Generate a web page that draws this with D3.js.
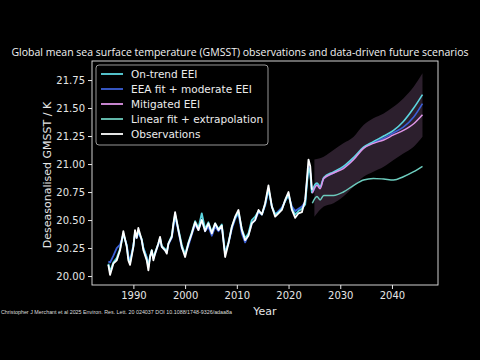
<!DOCTYPE html>
<html>
<head>
<meta charset="utf-8">
<script src="https://cdn.jsdelivr.net/npm/d3@7"></script>
<style>
  html, body { margin: 0; padding: 0; background: #000; }
  svg { display: block; }
</style>
</head>
<body>
<div id="app"></div>
<script>
// observations (deseasonalised GMSST, K)
const obsYears = [1985.16, 1985.49, 1986.12, 1986.78, 1987.42, 1988.06, 1988.72, 1989.03, 1989.36, 1990.00,
  1990.32, 1990.65, 1990.96, 1991.62, 1991.93, 1992.59, 1992.90, 1993.23, 1993.56, 1993.87,
  1994.20, 1994.83, 1995.16, 1995.49, 1996.13, 1996.46, 1996.77, 1997.43, 1997.74, 1998.07,
  1998.70, 1999.36, 2000.00, 2000.64, 2001.30, 2001.94, 2002.58, 2003.23, 2003.87, 2004.50,
  2005.17, 2005.81, 2006.45, 2007.10, 2007.74, 2008.38, 2009.04, 2009.68, 2010.32, 2010.97,
  2011.61, 2012.25, 2012.90, 2013.55, 2014.20, 2014.85, 2015.48, 2016.12, 2016.78, 2017.42,
  2018.06, 2018.71, 2019.35, 2019.99, 2020.65, 2021.29, 2021.93, 2022.58, 2023.22, 2023.55,
  2023.86, 2024.20, 2024.52];
const obsValues = [20.10, 20.01, 20.11, 20.14, 20.23, 20.40, 20.26, 20.14, 20.10, 20.26,
  20.41, 20.34, 20.43, 20.32, 20.23, 20.14, 20.05, 20.17, 20.23, 20.14,
  20.20, 20.29, 20.35, 20.26, 20.23, 20.20, 20.29, 20.35, 20.47, 20.57,
  20.41, 20.26, 20.17, 20.29, 20.38, 20.48, 20.41, 20.50, 20.40, 20.47,
  20.38, 20.47, 20.41, 20.45, 20.17, 20.29, 20.44, 20.53, 20.59, 20.41,
  20.32, 20.36, 20.47, 20.50, 20.59, 20.55, 20.65, 20.81, 20.62, 20.53,
  20.56, 20.59, 20.68, 20.75, 20.59, 20.52, 20.56, 20.57, 20.68, 20.86,
  21.04, 20.98, 20.77];
// fitted series over the observation period
const onTrendHist = [20.11, 20.04, 20.12, 20.16, 20.24, 20.38, 20.27, 20.16, 20.12, 20.27,
  20.39, 20.35, 20.40, 20.33, 20.25, 20.16, 20.08, 20.18, 20.23, 20.16,
  20.21, 20.29, 20.34, 20.27, 20.24, 20.22, 20.29, 20.36, 20.46, 20.55,
  20.42, 20.28, 20.19, 20.30, 20.39, 20.49, 20.43, 20.56, 20.42, 20.48,
  20.39, 20.47, 20.42, 20.46, 20.20, 20.30, 20.44, 20.52, 20.57, 20.42,
  20.34, 20.38, 20.50, 20.53, 20.58, 20.55, 20.64, 20.78, 20.62, 20.55,
  20.57, 20.60, 20.67, 20.73, 20.60, 20.55, 20.58, 20.60, 20.64, 20.82,
  20.96, 20.92, 20.74];
const eeaHist = [20.13, 20.12, 20.18, 20.25, 20.28, 20.37, 20.28, 20.18, 20.14, 20.27,
  20.38, 20.34, 20.39, 20.32, 20.25, 20.17, 20.09, 20.17, 20.22, 20.16,
  20.20, 20.28, 20.33, 20.26, 20.23, 20.21, 20.28, 20.34, 20.44, 20.53,
  20.40, 20.25, 20.20, 20.27, 20.37, 20.46, 20.41, 20.50, 20.40, 20.44,
  20.36, 20.44, 20.40, 20.44, 20.21, 20.29, 20.42, 20.51, 20.56, 20.38,
  20.30, 20.37, 20.47, 20.50, 20.57, 20.55, 20.63, 20.77, 20.62, 20.55,
  20.58, 20.61, 20.67, 20.72, 20.62, 20.58, 20.60, 20.62, 20.66, 20.84,
  20.98, 20.93, 20.75];

// data-driven scenarios
const projYears = [2024.6, 2025.5, 2026.1, 2026.8, 2028.7, 2030.6, 2032.6, 2034.5, 2036.4, 2038.4, 2040.3, 2042.2, 2044.2, 2045.9];
const onTrendProj = [20.76, 20.83, 20.80, 20.88, 20.93, 20.98, 21.06, 21.15, 21.20, 21.25, 21.30, 21.38, 21.50, 21.62];
const eeaProj = [20.75, 20.82, 20.79, 20.87, 20.92, 20.97, 21.05, 21.145, 21.19, 21.23, 21.28, 21.33, 21.42, 21.54];
const mitigatedProj = [20.74, 20.81, 20.78, 20.87, 20.92, 20.96, 21.04, 21.14, 21.185, 21.215, 21.26, 21.30, 21.36, 21.44];
const linearProj = [20.65, 20.71, 20.68, 20.72, 20.72, 20.75, 20.81, 20.857, 20.872, 20.866, 20.857, 20.887, 20.932, 20.98];

// uncertainty range
const bandYears = [2025.0, 2026.8, 2028.7, 2030.6, 2032.6, 2034.5, 2036.4, 2038.4, 2040.3, 2042.2, 2044.2, 2045.9];
const bandUpper = [21.04, 21.065, 21.125, 21.185, 21.244, 21.348, 21.408, 21.452, 21.512, 21.586, 21.69, 21.81];
const bandLower = [20.53, 20.62, 20.65, 20.71, 20.80, 20.887, 20.932, 20.976, 21.036, 21.095, 21.155, 21.244];

const xTicks = [1990, 2000, 2010, 2020, 2030, 2040];
const yTicks = [20.00, 20.25, 20.50, 20.75, 21.00, 21.25, 21.50, 21.75];

const legendLabels = ['On-trend EEI', 'EEA fit + moderate EEI', 'Mitigated EEI', 'Linear fit + extrapolation', 'Observations'];

(() => {
  const W = 480, H = 360;
  const m = { left: 92, right: 438, top: 61, bottom: 285 };
  const colors = {
    onTrend: '#5cd6e0',
    eea: '#3b5fd6',
    mitigated: '#dd94e6',
    linear: '#6ccbbd',
    obs: '#ffffff',
    band: '#2c1f2d'
  };
  const tickFont = 'DejaVu Sans, sans-serif';

  const x = d3.scaleLinear().domain([1982.0, 2048.9]).range([m.left, m.right]);
  const y = d3.scaleLinear().domain([19.92, 21.92]).range([m.bottom, m.top]);

  const svg = d3.select('#app').append('svg')
    .attr('width', W)
    .attr('height', H)
    .style('background', '#000');

  const zip = (xs, ys) => xs.map((d, i) => [d, ys[i]]);
  const smooth = d3.line().x(d => x(d[0])).y(d => y(d[1])).curve(d3.curveMonotoneX);
  const jagged = d3.line().x(d => x(d[0])).y(d => y(d[1]));

  // shaded range
  const area = d3.area()
    .x(d => x(d[0]))
    .y0(d => y(d[2]))
    .y1(d => y(d[1]))
    .curve(d3.curveMonotoneX);
  svg.append('path')
    .datum(bandYears.map((d, i) => [d, bandUpper[i], bandLower[i]]))
    .attr('d', area)
    .attr('fill', colors.band);

  const drawLine = (pts, gen, color, w) => svg.append('path')
    .datum(pts)
    .attr('d', gen)
    .attr('fill', 'none')
    .attr('stroke', color)
    .attr('stroke-width', w)
    .attr('stroke-linejoin', 'round');

  // historical fits drawn jagged, projections smooth
  drawLine(zip(projYears, linearProj), smooth, colors.linear, 1.5);
  drawLine(zip(obsYears, eeaHist), jagged, colors.eea, 1.8);
  drawLine(zip(obsYears, onTrendHist), jagged, colors.onTrend, 1.8);
  drawLine(zip(obsYears.slice(-1), eeaHist.slice(-1)).concat(zip(projYears, eeaProj)), smooth, colors.eea, 1.6);
  drawLine(zip(obsYears.slice(-1), onTrendHist.slice(-1)).concat(zip(projYears, onTrendProj)), smooth, colors.onTrend, 1.6);
  drawLine(zip(projYears, mitigatedProj), smooth, colors.mitigated, 1.5);
  drawLine(zip(obsYears, obsValues), jagged, colors.obs, 1.8);

  // frame
  svg.append('rect')
    .attr('x', m.left)
    .attr('y', m.top)
    .attr('width', m.right - m.left)
    .attr('height', m.bottom - m.top)
    .attr('fill', 'none')
    .attr('stroke', '#e6e6e6')
    .attr('stroke-width', 0.9);

  // axes
  const xAxis = svg.append('g')
    .attr('transform', `translate(0,${m.bottom})`)
    .call(d3.axisBottom(x).tickValues(xTicks).tickFormat(d3.format('d')).tickSize(4).tickPadding(3));
  const yAxis = svg.append('g')
    .attr('transform', `translate(${m.left},0)`)
    .call(d3.axisLeft(y).tickValues(yTicks).tickFormat(d3.format('.2f')).tickSize(4).tickPadding(3));
  [xAxis, yAxis].forEach(g => {
    g.select('.domain').remove();
    g.selectAll('line').attr('stroke', '#e6e6e6');
    g.selectAll('text')
      .attr('fill', '#e6e6e6')
      .attr('font-family', tickFont)
      .attr('font-size', 10);
  });

  // title
  svg.append('text')
    .text('Global mean sea surface temperature (GMSST) observations and data-driven future scenarios')
    .attr('x', W / 2)
    .attr('y', 56)
    .attr('text-anchor', 'middle')
    .attr('font-family', 'Open Sans, sans-serif')
    .attr('font-size', 10.5)
    .attr('fill', '#f2f2f2');

  // axis labels
  svg.append('text')
    .text('Year')
    .attr('x', (m.left + m.right) / 2)
    .attr('y', 315)
    .attr('text-anchor', 'middle')
    .attr('font-family', tickFont)
    .attr('font-size', 11)
    .attr('fill', '#e6e6e6');

  svg.append('text')
    .text('Deseasonalised GMSST / K')
    .attr('transform', `translate(51,${(m.top + m.bottom) / 2 + 2}) rotate(-90)`)
    .attr('text-anchor', 'middle')
    .attr('font-family', tickFont)
    .attr('font-size', 11)
    .attr('fill', '#e6e6e6');

  // credit line
  svg.append('text')
    .text('Christopher J Merchant et al 2025 Environ. Res. Lett. 20 024037 DOI 10.1088/1748-9326/adaa8a')
    .attr('x', 1)
    .attr('y', 314)
    .attr('textLength', 231)
    .attr('lengthAdjust', 'spacingAndGlyphs')
    .attr('font-family', 'Liberation Sans, sans-serif')
    .attr('font-size', 5)
    .attr('fill', '#dddddd');

  // legend
  const legendColors = [colors.onTrend, colors.eea, colors.mitigated, colors.linear, colors.obs];
  const lg = svg.append('g');
  lg.append('rect')
    .attr('x', 96)
    .attr('y', 65)
    .attr('width', 172)
    .attr('height', 80)
    .attr('rx', 3)
    .attr('fill', '#000')
    .attr('stroke', '#bdbdbd')
    .attr('stroke-width', 0.8);
  const rows = lg.selectAll('g.row')
    .data(legendLabels)
    .enter()
    .append('g')
    .attr('class', 'row')
    .attr('transform', (d, i) => `translate(0,${74 + i * 15})`);
  rows.append('line')
    .attr('x1', 101)
    .attr('x2', 123)
    .attr('stroke', (d, i) => legendColors[i])
    .attr('stroke-width', 1.8);
  rows.append('text')
    .text(d => d)
    .attr('x', 131)
    .attr('dy', '0.35em')
    .attr('font-family', tickFont)
    .attr('font-size', 10.5)
    .attr('fill', '#ececec');
})();
</script>
</body>
</html>
